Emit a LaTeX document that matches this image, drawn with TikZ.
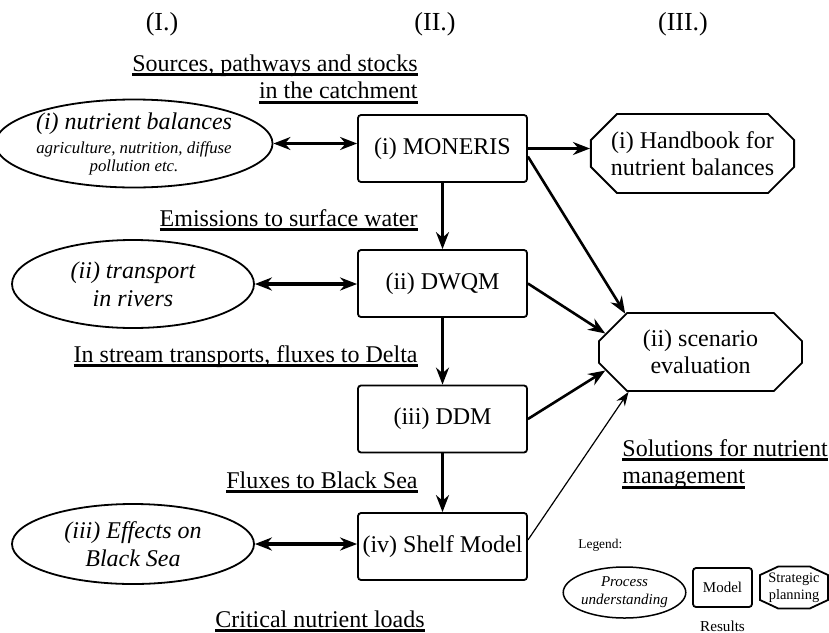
\documentclass[tikz,border=0pt]{standalone}
\usepackage{fontspec}
\setmainfont{Liberation Serif}
\usetikzlibrary{arrows.meta}
\usetikzlibrary{shapes.geometric}
\usetikzlibrary{shapes.misc}
\usetikzlibrary{positioning}
\tikzset{model/.style = {draw, line width=0.9pt, rounded corners=1.5pt, inner sep=0pt,
                         minimum width=84.5pt, minimum height=33.5pt,
                         font=\fontsize{12}{14}\selectfont},
         process/.style = {draw, ellipse, line width=0.9pt, inner sep=0pt, align=center,
                           minimum width=121pt, minimum height=42pt,
                           font=\fontsize{12}{14}\selectfont\itshape},
         plan/.style = {draw, chamfered rectangle, chamfered rectangle xsep=10pt,
                        line width=0.9pt, inner sep=0pt, align=center,
                        minimum width=101.5pt, minimum height=39.5pt,
                        font=\fontsize{12}{13.5}\selectfont},
         note/.style = {inner sep=0pt, font=\fontsize{12}{13.8}\selectfont},
         title/.style = {inner sep=0pt, font=\fontsize{13}{15}\selectfont},
         flow/.style = {-{Stealth[length=8.5pt, width=6.5pt]}, line width=1.3pt},
         thinflow/.style = {-{Stealth[length=7pt, width=5pt]}, line width=0.6pt},
         swap/.style = {{Stealth[length=8.5pt, width=6.5pt]}-{Stealth[length=8.5pt, width=6.5pt]}}}
\newcommand{\ubar}[1]{\setbox0\hbox{#1}\rlap{\rule[-2.5pt]{\wd0}{1.5pt}}\box0}

\begin{document}
\begin{tikzpicture}[x=0.5pt, y=-0.5pt]
      \useasboundingbox (0, 0) rectangle (829, 632);

      \node [title] (h1) at (162, 24) {(I.)};
      \node [title] (h2) at (435, 24) {(II.)};
      \node [title] (h3) at (683, 24) {(III.)};

      \node [note, align=right, anchor=north east] (src) at (418, 54) {\ubar{Sources, pathways and stocks}\\\ubar{in the catchment}};
      \node [note, anchor=base east] (emis) at (418, 226) {\ubar{Emissions to surface water}};
      \node [note, anchor=base east] (delta) at (418, 362) {\ubar{In stream transports, fluxes to Delta}};
      \node [note, anchor=base east] (fluxsea) at (418, 488) {\ubar{Fluxes to Black Sea}};
      \node [note, anchor=base west] (crit) at (215, 627) {\ubar{Critical nutrient loads}};
      \node [note, align=left, anchor=north west] (sol) at (622, 439) {\ubar{Solutions for nutrient}\\\ubar{management}};

      \node [process, font=\fontsize{8.4}{9}\selectfont\itshape] (bal) at (134, 143.5)
            {{\fontsize{12}{12}\selectfont (i) nutrient balances}\\[3pt]agriculture, nutrition, diffuse\\pollution etc.};
      \node [process, minimum height=44pt] (trans) at (133, 284) {(ii) transport\\in rivers};
      \node [process, minimum height=40pt] (sea) at (133, 544) {(iii) Effects on\\Black Sea};

      \node [model] (moneris) at (442.5, 148.5) {(i) MONERIS};
      \node [model] (dwqm) at (442.5, 283.5) {(ii) DWQM};
      \node [model] (ddm) at (442.5, 419) {(iii) DDM};
      \node [model] (shelf) at (442.5, 546.5) {(iv) Shelf Model};

      \node [plan] (hand) at (692.5, 153.5) {(i) Handbook for\\nutrient balances};
      \node [plan, minimum height=39pt, chamfered rectangle xsep=11.5pt] (scen) at (700.5, 352) {(ii) scenario\\evaluation};

      \draw [swap, line width=1.2pt] (bal.east) -- (bal.east -| moneris.west);
      \draw [swap, line width=2pt] (trans.east) -- (trans.east -| dwqm.west);
      \draw [swap, line width=2pt] (sea.east) -- (sea.east -| shelf.west);

      \draw [flow] (moneris) -- (dwqm);
      \draw [flow] (dwqm) -- (ddm);
      \draw [flow] (ddm) -- (shelf);
      \draw [flow] (moneris.east) -- (moneris.east -| hand.west);
      \draw [flow] ([yshift=-4pt]moneris.east) -- (scen.153);
      \draw [flow] (dwqm.east) -- (scen.169);
      \draw [flow] (ddm.east) -- (scen.191);
      \draw [thinflow] ([yshift=3.25pt]shelf.east) -- (scen.209);

      \node [anchor=base west, inner sep=0pt, font=\fontsize{6.7}{8}\selectfont] (leg) at (578, 548) {Legend:};
      \node [process, line width=0.75pt, minimum width=47.5pt, minimum height=25.5pt,
             font=\fontsize{7.5}{9}\selectfont\itshape] (lproc) at (624.5, 592.5) {Process\\understanding};
      \node [model, minimum width=29.5pt, minimum height=19.5pt,
             font=\fontsize{7.5}{9}\selectfont] (lmodel) at (722.5, 587.5) {Model};
      \node [plan, minimum width=34pt, minimum height=19.5pt, chamfered rectangle angle=65,
             chamfered rectangle xsep=2.5pt, font=\fontsize{7.2}{8.5}\selectfont] (lplan) at (794, 587.5) {Strategic\\planning};
      \node [anchor=base, inner sep=0pt, font=\fontsize{7.6}{9}\selectfont] (res) at (722.5, 631) {Results};
    \end{tikzpicture}
\end{document}
